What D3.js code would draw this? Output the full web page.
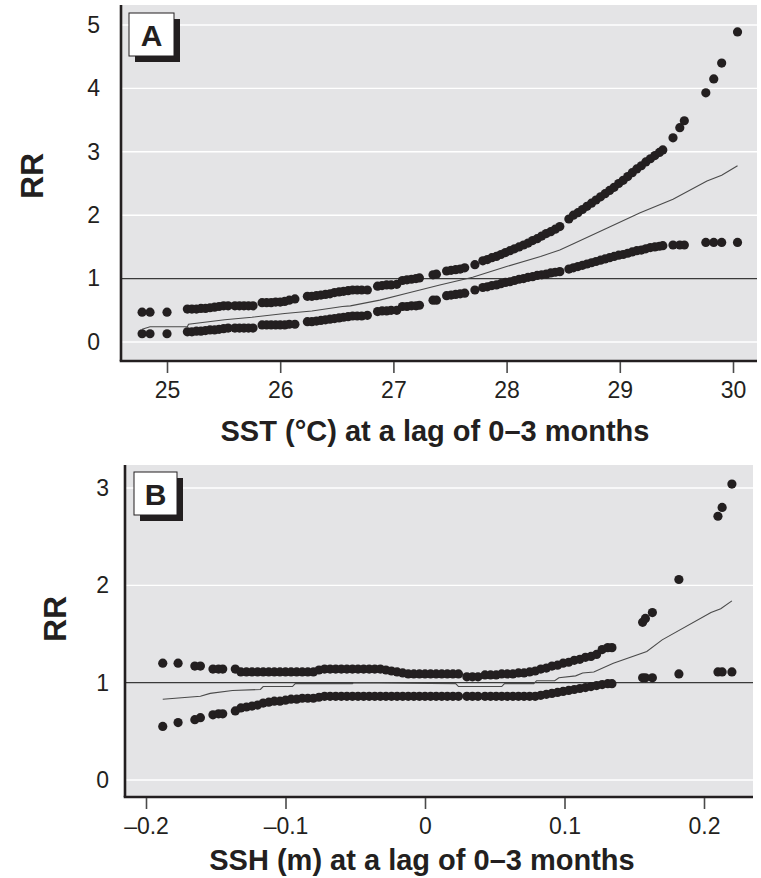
<!DOCTYPE html>
<html>
<head>
<meta charset="utf-8">
<script src="https://d3js.org/d3.v7.min.js"></script>
<style>
  body { margin: 0; background: #fff; }
  svg { display: block; }
</style>
</head>
<body>
<svg id="chart" width="761" height="878"></svg>
<script>
// ---- panel A: SST (°C), lag 0-3 months ----
var sstX = [24.78, 24.85, 25.00,
  25.18, 25.22, 25.26, 25.30, 25.34, 25.38, 25.42, 25.46, 25.50, 25.54,
  25.60, 25.64, 25.68, 25.72, 25.76,
  25.84, 25.88, 25.92, 25.96, 26.00, 26.04, 26.08, 26.13,
  26.24, 26.28, 26.32, 26.36, 26.40, 26.44, 26.48, 26.52, 26.56, 26.60, 26.64, 26.68, 26.72, 26.77,
  26.86, 26.90, 26.94, 26.98, 27.03,
  27.08, 27.12, 27.16, 27.20, 27.23,
  27.35, 27.38,
  27.47, 27.51, 27.55, 27.59, 27.63,
  27.72,
  27.79, 27.83, 27.87, 27.91, 27.95, 27.99, 28.03, 28.07, 28.11, 28.15, 28.19, 28.23, 28.27, 28.31,
  28.35, 28.39, 28.43, 28.47,
  28.55, 28.59, 28.63, 28.67, 28.71, 28.75, 28.79, 28.83, 28.87, 28.91, 28.95, 28.99, 29.03, 29.07,
  29.11, 29.15, 29.19, 29.23, 29.27, 29.31, 29.35, 29.38,
  29.47, 29.53, 29.57,
  29.76, 29.83, 29.90, 30.04];
var sstUpper = [0.47, 0.47, 0.47,
  0.52, 0.52, 0.52, 0.53, 0.53, 0.54, 0.55, 0.56, 0.57, 0.57,
  0.57, 0.57, 0.57, 0.57, 0.57,
  0.62, 0.62, 0.62, 0.63, 0.63, 0.64, 0.66, 0.68,
  0.72, 0.72, 0.73, 0.74, 0.75, 0.76, 0.78, 0.79, 0.80, 0.81, 0.82, 0.82, 0.82, 0.82,
  0.88, 0.89, 0.90, 0.90, 0.91,
  0.97, 0.98, 0.99, 1.00, 1.01,
  1.06, 1.07,
  1.12, 1.13, 1.14, 1.15, 1.17,
  1.22,
  1.28, 1.30, 1.33, 1.35, 1.38, 1.41, 1.44, 1.47, 1.50, 1.53, 1.56, 1.60, 1.63, 1.67,
  1.71, 1.74, 1.78, 1.82,
  1.94, 2.00, 2.04, 2.09, 2.14, 2.19, 2.24, 2.29, 2.34, 2.39, 2.44, 2.50, 2.55, 2.61,
  2.67, 2.73, 2.78, 2.84, 2.89, 2.94, 2.99, 3.03,
  3.22, 3.38, 3.49,
  3.93, 4.15, 4.40, 4.89];
var sstLower = [0.13, 0.13, 0.13,
  0.16, 0.16, 0.17, 0.17, 0.18, 0.19, 0.19, 0.20, 0.21, 0.22,
  0.22, 0.22, 0.22, 0.22, 0.22,
  0.27, 0.27, 0.27, 0.27, 0.27, 0.27, 0.28, 0.28,
  0.32, 0.32, 0.33, 0.34, 0.35, 0.36, 0.37, 0.38, 0.39, 0.40, 0.41, 0.41, 0.41, 0.42,
  0.48, 0.49, 0.49, 0.50, 0.50,
  0.56, 0.56, 0.57, 0.57, 0.58,
  0.66, 0.66,
  0.73, 0.74, 0.75, 0.76, 0.77,
  0.82,
  0.86, 0.87, 0.89, 0.90, 0.92, 0.94, 0.95, 0.97, 0.99, 1.00, 1.02, 1.03, 1.05, 1.06,
  1.07, 1.09, 1.10, 1.11,
  1.15, 1.17, 1.19, 1.21, 1.23, 1.25, 1.27, 1.29, 1.31, 1.33, 1.35, 1.37, 1.38, 1.40,
  1.42, 1.44, 1.45, 1.47, 1.49, 1.50, 1.51, 1.52,
  1.53, 1.53, 1.53,
  1.57, 1.57, 1.57, 1.57];
var sstLineX = [24.78, 24.85, 25.18, 25.19, 25.51, 25.75, 26.04, 26.28, 26.55, 26.62, 26.88, 27.12,
  27.41, 27.70, 28.00, 28.30, 28.47, 28.59, 28.89, 29.18, 29.47, 29.77, 29.90, 30.04];
var sstLineRR = [0.20, 0.24, 0.24, 0.28, 0.35, 0.39, 0.45, 0.49, 0.56, 0.57, 0.66, 0.77,
  0.90, 1.02, 1.19, 1.35, 1.45, 1.55, 1.80, 2.04, 2.25, 2.54, 2.63, 2.78];
var sstTicks = [25, 26, 27, 28, 29, 30];
var sstRRTicks = [0, 1, 2, 3, 4, 5];

// ---- panel B: SSH (m), lag 0-3 months ----
var sshX = [-0.188, -0.177, -0.165, -0.161, -0.152, -0.148, -0.145, -0.136,
  -0.132, -0.128, -0.124, -0.120, -0.116, -0.112, -0.108, -0.104, -0.100, -0.096, -0.092, -0.088,
  -0.084, -0.080, -0.076, -0.072, -0.068, -0.064, -0.060, -0.056, -0.052, -0.048, -0.044, -0.040,
  -0.036, -0.032, -0.028, -0.024, -0.020, -0.016, -0.012, -0.008, -0.004, 0.000, 0.004, 0.008,
  0.012, 0.016, 0.020, 0.024,
  0.030, 0.034, 0.038,
  0.043, 0.047, 0.051, 0.055, 0.059, 0.063, 0.067, 0.071, 0.075, 0.079, 0.083, 0.087, 0.091,
  0.095, 0.099, 0.103, 0.107, 0.111, 0.115, 0.119, 0.123, 0.127, 0.131, 0.134,
  0.156, 0.158, 0.163, 0.182, 0.210, 0.213, 0.220];
var sshUpper = [1.20, 1.20, 1.17, 1.17, 1.14, 1.14, 1.14, 1.14,
  1.11, 1.11, 1.11, 1.11, 1.11, 1.11, 1.11, 1.11, 1.11, 1.11, 1.11, 1.11,
  1.11, 1.11, 1.13, 1.14, 1.14, 1.14, 1.14, 1.14, 1.14, 1.14, 1.14, 1.14,
  1.14, 1.14, 1.13, 1.12, 1.11, 1.10, 1.09, 1.09, 1.09, 1.09, 1.09, 1.09,
  1.09, 1.09, 1.09, 1.09,
  1.06, 1.06, 1.06,
  1.08, 1.08, 1.08, 1.09, 1.09, 1.09, 1.10, 1.10, 1.11, 1.12, 1.14, 1.15, 1.17,
  1.18, 1.20, 1.21, 1.23, 1.24, 1.26, 1.27, 1.29, 1.34, 1.36, 1.36,
  1.62, 1.66, 1.72, 2.06, 2.71, 2.80, 3.04];
var sshLower = [0.55, 0.59, 0.62, 0.64, 0.67, 0.68, 0.68, 0.71,
  0.74, 0.75, 0.76, 0.77, 0.79, 0.80, 0.81, 0.81, 0.82, 0.83, 0.83, 0.84,
  0.84, 0.84, 0.85, 0.86, 0.86, 0.86, 0.86, 0.86, 0.86, 0.86, 0.86, 0.86,
  0.86, 0.86, 0.86, 0.86, 0.86, 0.86, 0.86, 0.86, 0.86, 0.86, 0.86, 0.86,
  0.86, 0.86, 0.86, 0.86,
  0.86, 0.86, 0.86,
  0.86, 0.86, 0.86, 0.86, 0.86, 0.86, 0.86, 0.86, 0.86, 0.86, 0.87, 0.88, 0.89,
  0.90, 0.91, 0.92, 0.93, 0.94, 0.95, 0.96, 0.97, 0.98, 0.99, 0.99,
  1.05, 1.05, 1.05, 1.09, 1.11, 1.11, 1.11];
var sshLineX = [-0.188, -0.161, -0.154, -0.138, -0.118, -0.116, -0.095, -0.093, -0.052, -0.051,
  0.022, 0.024, 0.055, 0.057, 0.078, 0.080, 0.093, 0.096, 0.108, 0.113, 0.121, 0.135,
  0.159, 0.170, 0.205, 0.212, 0.220];
var sshLineRR = [0.83, 0.86, 0.89, 0.92, 0.93, 0.96, 0.96, 0.99, 0.99, 1.00,
  0.99, 0.96, 0.96, 0.99, 0.99, 1.02, 1.02, 1.05, 1.07, 1.10, 1.11, 1.20,
  1.32, 1.44, 1.72, 1.76, 1.84];
var sshTicks = [-0.2, -0.1, 0, 0.1, 0.2];
var sshRRTicks = [0, 1, 2, 3];

var svg = d3.select("#chart");
var tickFont = "'Liberation Sans Narrow', 'Arial Narrow', 'Liberation Sans', sans-serif";
var boldFont = "'Liberation Sans', Arial, sans-serif";

function drawPanel(p) {
  var x = d3.scaleLinear().domain(p.xDomain).range(p.xRange);
  var y = d3.scaleLinear().domain(p.yDomain).range(p.yRange);
  var g = svg.append("g");

  // plot background
  g.append("rect")
    .attr("x", p.left).attr("y", p.top)
    .attr("width", p.right - p.left).attr("height", p.bottom - p.top)
    .attr("fill", "#e4e4e6");

  // grid lines (RR = 1 drawn dark)
  g.selectAll(".grid").data(p.yTicks).enter().append("line")
    .attr("x1", p.left).attr("x2", p.right)
    .attr("y1", function(d) { return y(d); })
    .attr("y2", function(d) { return y(d); })
    .attr("stroke", function(d) { return d === 1 ? "#3a3a3a" : "#ffffff"; })
    .attr("stroke-width", function(d) { return d === 1 ? 1.3 : 1.4; });

  // fitted RR line
  var pts = p.lineX.map(function(v, i) { return [v, p.lineRR[i]]; });
  g.append("path")
    .datum(pts)
    .attr("fill", "none")
    .attr("stroke", "#4a4a4a")
    .attr("stroke-width", 1.1)
    .attr("d", d3.line().x(function(d) { return x(d[0]); }).y(function(d) { return y(d[1]); }));

  // confidence limits as dots
  var dots = [];
  p.xs.forEach(function(v, i) {
    dots.push([v, p.upper[i]]);
    dots.push([v, p.lower[i]]);
  });
  g.selectAll(".dot").data(dots).enter().append("circle")
    .attr("cx", function(d) { return x(d[0]); })
    .attr("cy", function(d) { return y(d[1]); })
    .attr("r", 4.6)
    .attr("fill", "#231f20");

  // axes lines
  g.append("line")
    .attr("x1", p.left).attr("x2", p.left)
    .attr("y1", p.top).attr("y2", p.bottom)
    .attr("stroke", "#231f20").attr("stroke-width", 2.6);
  g.append("line")
    .attr("x1", p.left - 1.3).attr("x2", p.right)
    .attr("y1", p.bottom).attr("y2", p.bottom)
    .attr("stroke", "#231f20").attr("stroke-width", 2.6);

  // x axis
  var xAxis = d3.axisBottom(x)
    .tickValues(p.xTicks)
    .tickSize(11)
    .tickPadding(9)
    .tickFormat(p.xFormat);
  var xg = g.append("g")
    .attr("transform", "translate(0," + (p.bottom + 1) + ")")
    .call(xAxis);
  xg.select(".domain").remove();
  xg.selectAll(".tick line").attr("stroke", "#4a4a4a").attr("stroke-width", 1.6);
  xg.selectAll(".tick text")
    .attr("fill", "#231f20")
    .style("font-family", tickFont)
    .style("font-size", "23px");

  // y axis
  var yAxis = d3.axisLeft(y)
    .tickValues(p.yTicks)
    .tickSize(0)
    .tickPadding(p.yPad)
    .tickFormat(d3.format("d"));
  var yg = g.append("g")
    .attr("transform", "translate(" + p.left + ",0)")
    .call(yAxis);
  yg.select(".domain").remove();
  yg.selectAll(".tick text")
    .attr("fill", "#231f20")
    .style("font-family", tickFont)
    .style("font-size", "23px");

  // axis titles
  g.append("text")
    .attr("x", p.xTitleX).attr("y", p.xTitleY)
    .attr("text-anchor", "middle")
    .attr("fill", "#231f20")
    .style("font-family", boldFont)
    .style("font-weight", "bold")
    .style("font-size", "29px")
    .text(p.xTitle);
  g.append("text")
    .attr("transform", "translate(" + p.yTitleX + "," + p.yTitleY + ") rotate(-90)")
    .attr("text-anchor", "middle")
    .attr("fill", "#231f20")
    .style("font-family", boldFont)
    .style("font-weight", "bold")
    .style("font-size", "32px")
    .text("RR");

  // panel letter box with shadow
  var b = p.box;
  g.append("rect")
    .attr("x", b[0] + 6).attr("y", b[1] + 6)
    .attr("width", b[2]).attr("height", b[3])
    .attr("fill", "#231f20");
  g.append("rect")
    .attr("x", b[0]).attr("y", b[1])
    .attr("width", b[2]).attr("height", b[3])
    .attr("fill", "#fff").attr("stroke", "#231f20").attr("stroke-width", 1);
  g.append("text")
    .attr("x", b[0] + b[2] / 2).attr("y", b[1] + b[3] / 2 + 11)
    .attr("text-anchor", "middle")
    .attr("fill", "#231f20")
    .style("font-family", boldFont)
    .style("font-weight", "bold")
    .style("font-size", "30px")
    .text(p.letter);
}

drawPanel({
  xs: sstX, upper: sstUpper, lower: sstLower,
  lineX: sstLineX, lineRR: sstLineRR,
  xDomain: [25, 30], xRange: [167, 733],
  yDomain: [0, 5], yRange: [342, 25],
  left: 121, right: 757, top: 5, bottom: 361,
  xTicks: sstTicks, yTicks: sstRRTicks, yPad: 21,
  xFormat: function(d) { return d; },
  xTitle: "SST (°C) at a lag of 0–3 months", xTitleX: 435, xTitleY: 441,
  yTitleX: 43, yTitleY: 176,
  box: [129, 13, 45, 43], letter: "A"
});

drawPanel({
  xs: sshX, upper: sshUpper, lower: sshLower,
  lineX: sshLineX, lineRR: sshLineRR,
  xDomain: [-0.2, 0.2], xRange: [146, 704],
  yDomain: [0, 3], yRange: [780, 488],
  left: 125, right: 753, top: 465, bottom: 797,
  xTicks: sshTicks, yTicks: sshRRTicks, yPad: 16,
  xFormat: function(d) { return d < 0 ? "–" + Math.abs(d) : String(d); },
  xTitle: "SSH (m) at a lag of 0–3 months", xTitleX: 422, xTitleY: 870,
  yTitleX: 66, yTitleY: 619,
  box: [134, 472, 43, 43], letter: "B"
});
</script>
</body>
</html>
